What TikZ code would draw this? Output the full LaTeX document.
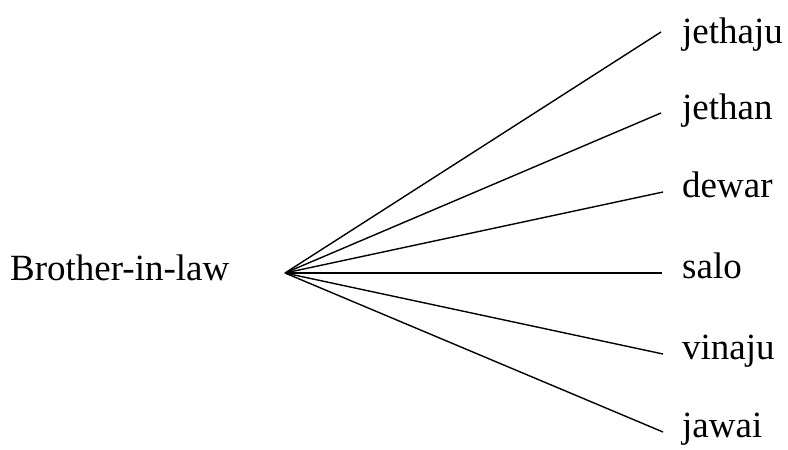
\documentclass[tikz,border=0pt]{standalone}
\usepackage{fontspec}
\setmainfont{Liberation Serif}
\begin{document}
\begin{tikzpicture}[x=1pt,y=-1pt,
  lbl/.style={font=\fontsize{37}{40}\selectfont, inner sep=0pt, anchor=base west},
  edge/.style={line width=1.4pt}]
\useasboundingbox (0,0) rectangle (788,450);
\node[lbl] (root) at (10,280) {Brother-in-law};
\coordinate (hub) at (285,273);
\node[lbl] (l1) at (682,43) {jethaju};
\node[lbl] (l2) at (682,119) {jethan};
\node[lbl] (l3) at (682,197) {dewar};
\node[lbl] (l4) at (682,278) {salo};
\node[lbl] (l5) at (682,359) {vinaju};
\node[lbl] (l6) at (682,437) {jawai};
\coordinate (e1) at (661,32);
\coordinate (e2) at (661,113);
\coordinate (e3) at (663,192);
\coordinate (e4) at (662,273);
\coordinate (e5) at (663,354);
\coordinate (e6) at (663,432);
\foreach \i in {1,...,6} \draw[edge] (hub) -- (e\i);
\end{tikzpicture}
\end{document}
